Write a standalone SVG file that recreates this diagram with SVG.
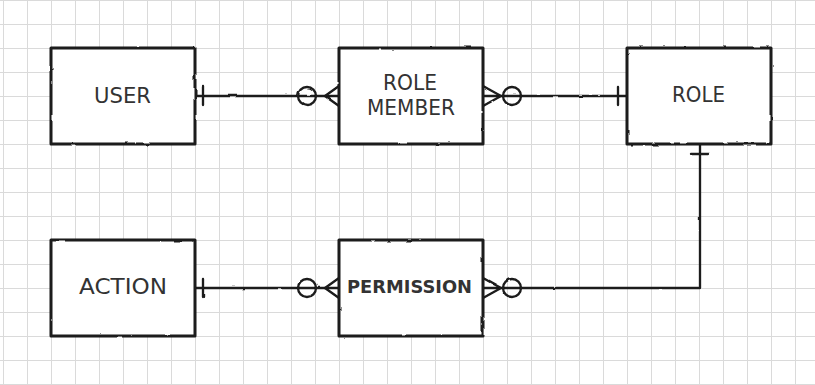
<svg xmlns="http://www.w3.org/2000/svg" width="815" height="385" viewBox="0 0 815 385">
  <style>
    .grid { stroke: #dadada; stroke-width: 1; fill: none; }
    .box { fill: #ffffff; stroke: #1a1a1a; stroke-width: 3; stroke-linejoin: round; }
    .conn { fill: none; stroke: #1a1a1a; stroke-width: 2.3; stroke-linecap: round; stroke-linejoin: round; }
    .lbl { font-family: "DejaVu Sans", "Liberation Sans", sans-serif; font-size: 22px; fill: #333333; text-anchor: middle; }
    .small { font-size: 18px; font-weight: bold; }
  </style>
  <defs>
    <filter id="rough" x="-5%" y="-5%" width="110%" height="110%">
      <feTurbulence type="fractalNoise" baseFrequency="0.08" numOctaves="2" seed="3" result="n"/>
      <feDisplacementMap in="SourceGraphic" in2="n" scale="2.2" xChannelSelector="R" yChannelSelector="G"/>
    </filter>
  </defs>
  <rect x="0" y="0" width="815" height="385" fill="#ffffff"/>
  <g id="grid" class="grid">
    <path d="M3.5,0V385M27.5,0V385M51.5,0V385M75.5,0V385M99.5,0V385M123.5,0V385M147.5,0V385M171.5,0V385M195.5,0V385M219.5,0V385M243.5,0V385M267.5,0V385M291.5,0V385M315.5,0V385M339.5,0V385M363.5,0V385M387.5,0V385M411.5,0V385M435.5,0V385M459.5,0V385M483.5,0V385M507.5,0V385M531.5,0V385M555.5,0V385M579.5,0V385M603.5,0V385M627.5,0V385M651.5,0V385M675.5,0V385M699.5,0V385M723.5,0V385M747.5,0V385M771.5,0V385M795.5,0V385"/>
    <path d="M0,0.5H815M0,24.5H815M0,48.5H815M0,72.5H815M0,96.5H815M0,120.5H815M0,144.5H815M0,168.5H815M0,192.5H815M0,216.5H815M0,240.5H815M0,264.5H815M0,288.5H815M0,312.5H815M0,336.5H815M0,360.5H815M0,384.5H815"/>
  </g>
  <g id="connectors" class="conn" filter="url(#rough)">
    <g id="user-rolemember">
      <path d="M195,96H339"/>
      <path d="M203,87V105"/>
      <circle cx="307" cy="96" r="9"/>
      <path d="M325,96L339,86M325,96L339,106"/>
    </g>
    <g id="rolemember-role">
      <path d="M483,96H627"/>
      <path d="M483,86L501,96L483,106"/>
      <circle cx="512" cy="96" r="9"/>
      <path d="M618,87V105"/>
    </g>
    <g id="role-permission">
      <path d="M700,144V288H483"/>
      <path d="M691,154H709"/>
      <path d="M483,278L501,288L483,298"/>
      <circle cx="512" cy="288" r="9"/>
    </g>
    <g id="action-permission">
      <path d="M195,288H339"/>
      <path d="M203,279V297"/>
      <circle cx="307" cy="288" r="9"/>
      <path d="M325,288L339,278M325,288L339,298"/>
    </g>
  </g>
  <g id="user">
    <rect class="box" x="51" y="48" width="144" height="96" filter="url(#rough)"/>
    <text class="lbl" x="122.5" y="103" textLength="57" lengthAdjust="spacingAndGlyphs">USER</text>
  </g>
  <g id="role-member">
    <rect class="box" x="339" y="48" width="144" height="96" filter="url(#rough)"/>
    <text class="lbl" x="410" y="90" textLength="54" lengthAdjust="spacingAndGlyphs">ROLE</text>
    <text class="lbl" x="411" y="115" textLength="88" lengthAdjust="spacingAndGlyphs">MEMBER</text>
  </g>
  <g id="role">
    <rect class="box" x="627" y="48" width="144" height="96" filter="url(#rough)"/>
    <text class="lbl" x="698.5" y="102" textLength="53" lengthAdjust="spacingAndGlyphs">ROLE</text>
  </g>
  <g id="action">
    <rect class="box" x="51" y="240" width="144" height="96" filter="url(#rough)"/>
    <text class="lbl" x="123" y="294" textLength="88" lengthAdjust="spacingAndGlyphs">ACTION</text>
  </g>
  <g id="permission">
    <rect class="box" x="339" y="240" width="144" height="96" filter="url(#rough)"/>
    <text class="lbl small" x="409.5" y="293" textLength="125" lengthAdjust="spacingAndGlyphs">PERMISSION</text>
  </g>
</svg>
